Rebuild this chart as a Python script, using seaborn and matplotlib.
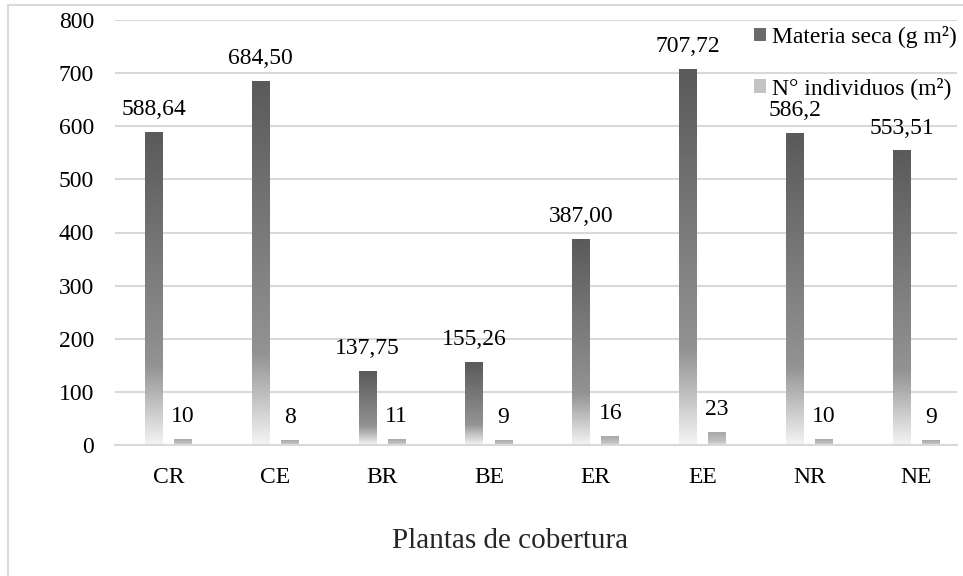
import numpy as np
import pandas as pd
import matplotlib
matplotlib.use("Agg")
import matplotlib.pyplot as plt
from matplotlib.colors import LinearSegmentedColormap
from matplotlib.patches import Patch, Rectangle
import seaborn as sns

# ---- data ----
categorias = ["CR", "CE", "BR", "BE", "ER", "EE", "NR", "NE"]
etiquetas_materia = ["588,64", "684,50", "137,75", "155,26", "387,00", "707,72", "586,2", "553,51"]
materia_seca = [float(s.replace(",", ".")) for s in etiquetas_materia]
individuos = [10, 8, 11, 9, 16, 23, 10, 9]
serie_materia = "Materia seca (g m²)"
serie_individuos = "N° individuos (m²)"
y_ticks = [0, 100, 200, 300, 400, 500, 600, 700, 800]

df = pd.DataFrame({
    "categoria": categorias * 2,
    "serie": [serie_materia] * len(categorias) + [serie_individuos] * len(categorias),
    "valor": materia_seca + individuos,
})

sns.set_theme(style="white")
plt.rcParams["font.family"] = ["Liberation Serif", "DejaVu Serif"]
plt.rcParams["text.color"] = "#000000"

W, H = 963, 576
fig = plt.figure(figsize=(W / 100, H / 100), dpi=100)
ax = fig.add_axes([115 / W, 1 - 445 / H, (957 - 115) / W, (445 - 20) / H])

palette = {serie_materia: "#6e6e6e", serie_individuos: "#b8b8b8"}
sns.barplot(data=df, x="categoria", y="valor", hue="serie", order=categorias,
            hue_order=[serie_materia, serie_individuos], palette=palette,
            width=0.544, gap=0.382, errorbar=None, legend=False, ax=ax)

# vertical gradients: dark at the top, fading to near white at the base
cmap_dark = LinearSegmentedColormap.from_list(
    "dark", [(0.0, "#f4f4f4"), (0.25, "#939393"), (1.0, "#5a5a5a")])
cmap_light = LinearSegmentedColormap.from_list(
    "light", [(0.0, "#dedede"), (0.25, "#c2c2c2"), (1.0, "#a8a8a8")])
grad = np.linspace(0, 1, 256).reshape(-1, 1)

bars = list(ax.patches)
n = len(categorias)
for i, bar in enumerate(bars):
    x0, w = bar.get_x(), bar.get_width()
    h = bar.get_height()
    cmap = cmap_dark if i < n else cmap_light
    ax.imshow(grad, extent=[x0, x0 + w, 0, h], origin="lower", aspect="auto",
              cmap=cmap, zorder=2, interpolation="bicubic")
    bar.set_visible(False)

# value labels above each bar
for i, bar in enumerate(bars):
    xc = bar.get_x() + bar.get_width() / 2
    h = bar.get_height()
    txt = etiquetas_materia[i] if i < n else str(individuos[i - n])
    ax.annotate(txt, (xc, h), xytext=(0, 16.5), textcoords="offset points",
                ha="center", va="center", fontsize=17, zorder=4)

ax.set_xlim(-0.5, 7.38)
ax.set_ylim(0, 800)
ax.set_yticks(y_ticks)
ax.set_yticklabels([str(v) for v in y_ticks])
ax.yaxis.grid(True, color="#d9d9d9", linewidth=1.5, zorder=0)
ax.set_axisbelow(True)
for side in ["left", "right", "top"]:
    ax.spines[side].set_visible(False)
ax.spines["bottom"].set_color("#d9d9d9")
ax.spines["bottom"].set_linewidth(1.5)
ax.tick_params(axis="both", length=0, labelsize=17, colors="#000000")
ax.tick_params(axis="y", pad=15)
ax.tick_params(axis="x", pad=16)
ax.set_ylabel("")
ax.set_xlabel("Plantas de cobertura", fontsize=21, va="center")
ax.xaxis.set_label_coords((510 - 115) / 842, (445 - 541) / 425)

handles = [Patch(facecolor="#6a6a6a", edgecolor="none"),
           Patch(facecolor="#c4c4c4", edgecolor="none")]
ax.legend(handles, [serie_materia, serie_individuos], loc="upper left",
          bbox_to_anchor=(754 / W, 1 - 26 / H), bbox_transform=fig.transFigure,
          frameon=False, fontsize=17, handlelength=0.5, handleheight=0.5,
          handletextpad=0.25, labelspacing=1.25, borderpad=0, borderaxespad=0)

# outer chart frame
fig.patches.append(Rectangle((8 / W, -0.1), 1.2, (1 - 5 / H) + 0.1,
                             transform=fig.transFigure, fill=False,
                             edgecolor="#d9d9d9", linewidth=1.5, zorder=0))

fig.savefig("out.png", dpi=100)
